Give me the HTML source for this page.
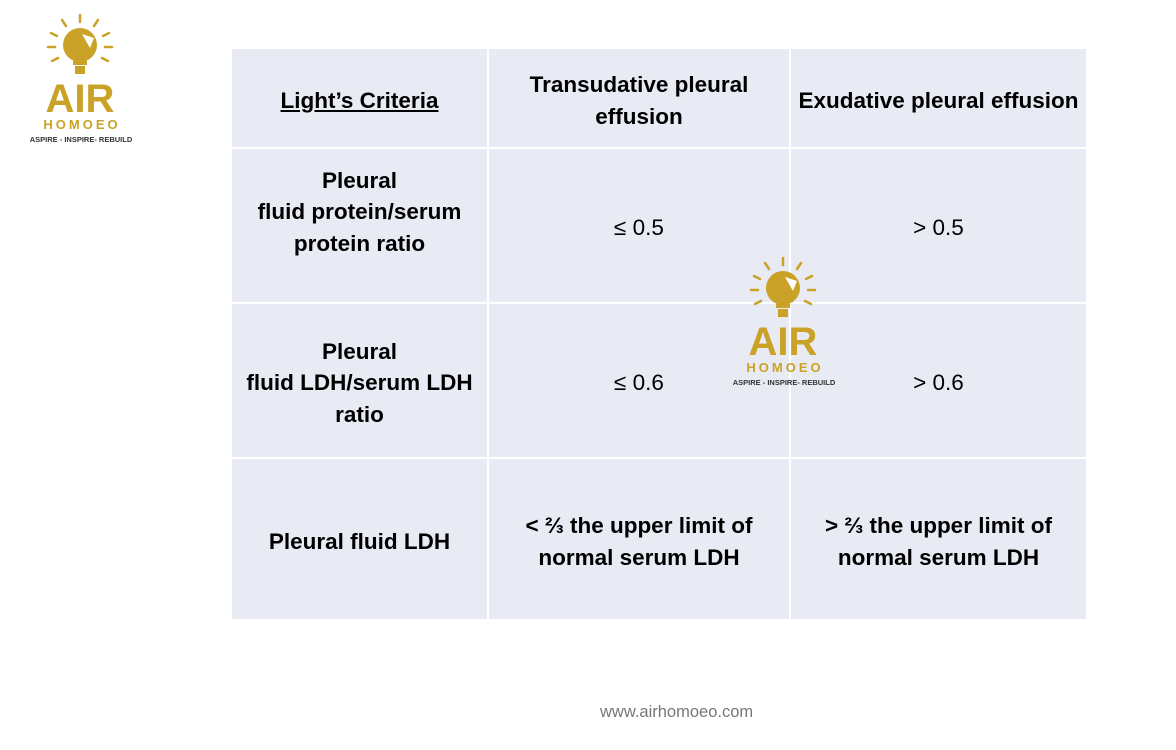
<!DOCTYPE html>
<html><head><meta charset="utf-8">
<style>
body{margin:0;width:1176px;height:750px;background:#fff;position:relative;overflow:hidden;font-family:"Liberation Sans",sans-serif;}
.c{position:absolute;background:#e8eaf4;display:flex;align-items:center;justify-content:center;text-align:center;font-weight:bold;font-size:22.5px;line-height:31.5px;color:#000;box-sizing:border-box;padding-top:5px;}
.n{font-weight:normal;}
svg{position:absolute;left:0;top:0;}
</style></head><body>
<div class="c" style="left:232px;top:49px;width:255px;height:98px;"><span style="text-decoration:underline">Light’s Criteria</span></div>
<div class="c" style="left:489px;top:49px;width:300px;height:98px;">Transudative pleural<br>effusion</div>
<div class="c" style="left:791px;top:49px;width:295px;height:98px;">Exudative pleural effusion</div>

<div class="c" style="left:232px;top:149px;width:255px;height:153px;padding-top:0;padding-bottom:27px;">Pleural<br>fluid protein/serum<br>protein ratio</div>
<div class="c n" style="left:489px;top:149px;width:300px;height:153px;">≤ 0.5</div>
<div class="c n" style="left:791px;top:149px;width:295px;height:153px;">&gt; 0.5</div>

<div class="c" style="left:232px;top:304px;width:255px;height:153px;">Pleural<br>fluid LDH/serum LDH<br>ratio</div>
<div class="c n" style="left:489px;top:304px;width:300px;height:153px;">≤ 0.6</div>
<div class="c n" style="left:791px;top:304px;width:295px;height:153px;">&gt; 0.6</div>

<div class="c" style="left:232px;top:459px;width:255px;height:160px;">Pleural fluid LDH</div>
<div class="c" style="left:489px;top:459px;width:300px;height:160px;">&lt; ⅔ the upper limit of<br>normal serum LDH</div>
<div class="c" style="left:791px;top:459px;width:295px;height:160px;">&gt; ⅔ the upper limit of<br>normal serum LDH</div>

<div style="position:absolute;left:600px;top:703px;font-size:16.5px;color:#777;">www.airhomoeo.com</div>

<svg width="1176" height="750">
<defs>
<g id="logo">
 <g stroke="#c9a227" stroke-width="2.5" stroke-linecap="round">
  <line x1="80" y1="22" x2="80" y2="15"/><line x1="66" y1="26" x2="62" y2="20"/><line x1="94" y1="26" x2="98" y2="20"/>
  <line x1="57" y1="36" x2="51" y2="33"/><line x1="103" y1="36" x2="109" y2="33"/>
  <line x1="55" y1="47" x2="48" y2="47"/><line x1="105" y1="47" x2="112" y2="47"/>
  <line x1="58" y1="58" x2="52" y2="61"/><line x1="102" y1="58" x2="108" y2="61"/>
 </g>
 <circle cx="80" cy="45" r="17" fill="#c9a227"/>
 <path d="M82 34 L94 38 L90 48 Z" fill="#fff"/>
 <rect x="73" y="61" width="14" height="4" fill="#c9a227"/>
 <rect x="75" y="66" width="10" height="8" fill="#c9a227"/>
 <text x="80" y="112" text-anchor="middle" font-family="Liberation Sans,sans-serif" font-weight="bold" font-size="40" fill="#c9a227">AIR</text>
 <text x="82" y="129" text-anchor="middle" font-family="Liberation Sans,sans-serif" font-weight="bold" font-size="13" letter-spacing="3" fill="#c9a227">HOMOEO</text>
 <text x="81" y="142" text-anchor="middle" font-family="Liberation Sans,sans-serif" font-weight="bold" font-size="7.5" fill="#333">ASPIRE - INSPIRE- REBUILD</text>
</g>
</defs>
<use href="#logo"/>
<use href="#logo" transform="translate(703,243)"/>
</svg>
</body></html>
